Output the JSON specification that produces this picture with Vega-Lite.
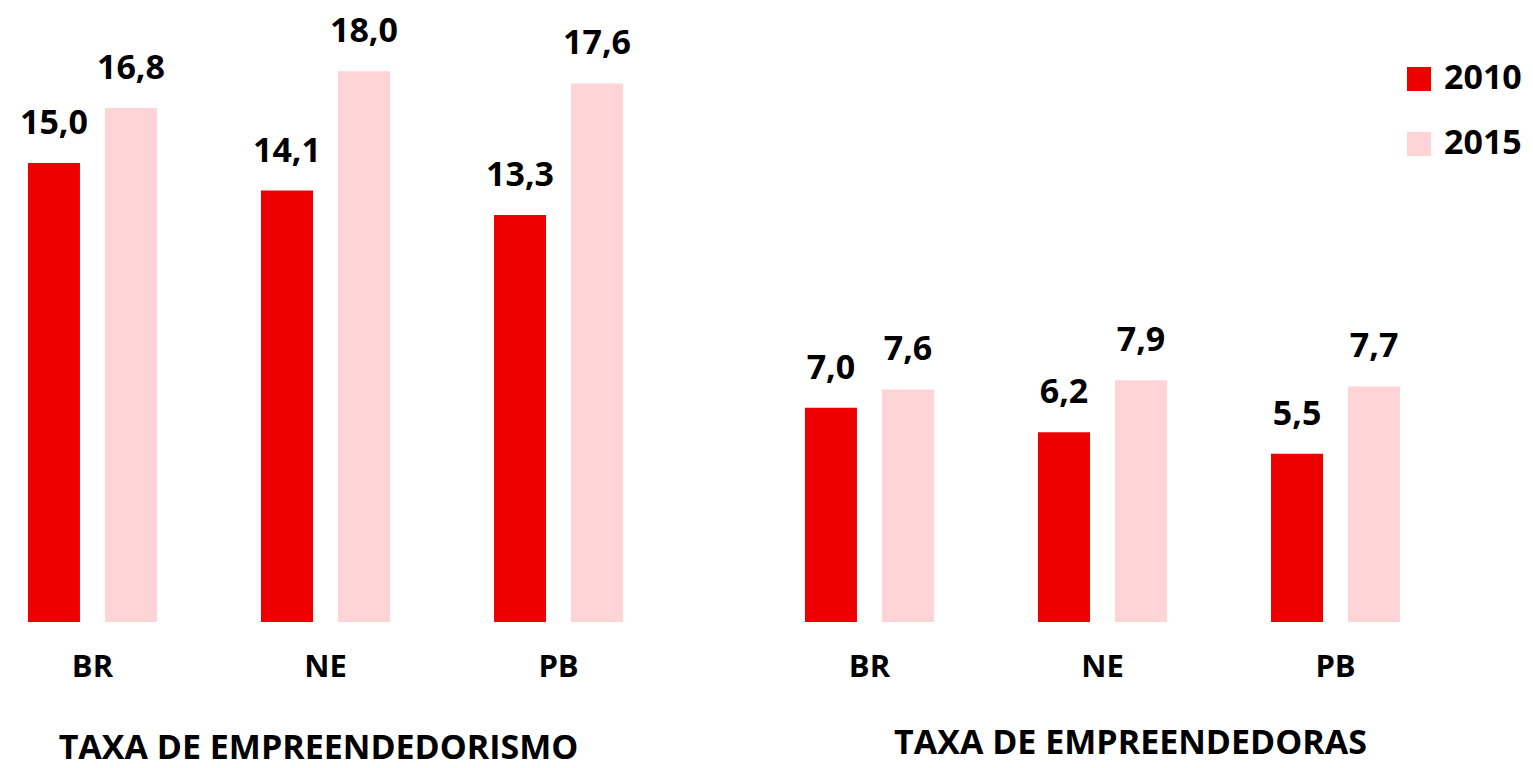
{
  "$schema": "https://vega.github.io/schema/vega-lite/v6.json",
  "padding": {"left": 0, "top": 10, "right": 0, "bottom": 0},
  "background": "white",
  "config": {
    "locale": {"number": {"decimal": ",", "thousands": ".", "grouping": [3], "currency": ["R$ ", ""]}},
    "view": {"stroke": null},
    "font": "Open Sans",
    "axisX": {
      "labelAngle": 0,
      "domain": false,
      "ticks": false,
      "tickSize": 0,
      "labelPadding": 30,
      "labelFontSize": 31,
      "labelFontWeight": "bold",
      "labelColor": "black",
      "labelFont": "Open Sans",
      "titleFont": "Open Sans",
      "titleFontSize": 34,
      "titleFontWeight": "bold",
      "titleColor": "black",
      "titleBaseline": "alphabetic"
    }
  },
  "data": {
    "values": [
      {"panel": "A", "region": "BR", "year": "2010", "value": 15.0},
      {"panel": "A", "region": "BR", "year": "2015", "value": 16.8},
      {"panel": "A", "region": "NE", "year": "2010", "value": 14.1},
      {"panel": "A", "region": "NE", "year": "2015", "value": 18.0},
      {"panel": "A", "region": "PB", "year": "2010", "value": 13.3},
      {"panel": "A", "region": "PB", "year": "2015", "value": 17.6},
      {"panel": "B", "region": "BR", "year": "2010", "value": 7.0},
      {"panel": "B", "region": "BR", "year": "2015", "value": 7.6},
      {"panel": "B", "region": "NE", "year": "2010", "value": 6.2},
      {"panel": "B", "region": "NE", "year": "2015", "value": 7.9},
      {"panel": "B", "region": "PB", "year": "2010", "value": 5.5},
      {"panel": "B", "region": "PB", "year": "2015", "value": 7.7}
    ]
  },
  "spacing": 126,
  "hconcat": [
    {
      "width": 651,
      "height": 612,
      "transform": [{"filter": "datum.panel === 'A'"}],
      "encoding": {
        "x": {
          "field": "region",
          "type": "nominal",
          "sort": ["BR", "NE", "PB"],
          "scale": {"paddingInner": 0.4464, "paddingOuter": 0.12},
          "axis": {"title": "TAXA DE EMPREENDEDORISMO", "titleX": 318, "titleY": 136}
        },
        "xOffset": {"field": "year", "type": "nominal", "scale": {"paddingInner": 0.325, "paddingOuter": 0}},
        "y": {"field": "value", "type": "quantitative", "scale": {"domain": [0, 20]}, "axis": null}
      },
      "layer": [
        {
          "mark": {"type": "bar"},
          "encoding": {
            "color": {
              "field": "year",
              "type": "nominal",
              "scale": {"domain": ["2010", "2015"], "range": ["#ee0000", "#ffd4d6"]},
              "legend": {
                "orient": "none",
                "legendX": 1402,
                "legendY": 52,
                "title": null,
                "padding": 0,
                "symbolType": "square",
                "symbolSize": 576,
                "symbolStrokeWidth": 0,
                "symbolOpacity": 1,
                "labelFont": "Open Sans",
                "labelFontSize": 34,
                "labelFontWeight": "bold",
                "labelColor": "black",
                "labelOffset": 8,
                "rowPadding": 31
              }
            }
          }
        },
        {
          "mark": {"type": "text", "baseline": "alphabetic", "dy": -29, "font": "Open Sans", "fontSize": 34, "fontWeight": "bold", "color": "black"},
          "encoding": {"text": {"field": "value", "type": "quantitative", "format": ".1f"}}
        }
      ]
    },
    {
      "width": 651,
      "height": 612,
      "transform": [{"filter": "datum.panel === 'B'"}],
      "encoding": {
        "x": {
          "field": "region",
          "type": "nominal",
          "sort": ["BR", "NE", "PB"],
          "scale": {"paddingInner": 0.4464, "paddingOuter": 0.12},
          "axis": {"title": "TAXA DE EMPREENDEDORAS", "titleX": 353, "titleY": 131}
        },
        "xOffset": {"field": "year", "type": "nominal", "scale": {"paddingInner": 0.325, "paddingOuter": 0}},
        "y": {"field": "value", "type": "quantitative", "scale": {"domain": [0, 20]}, "axis": null}
      },
      "layer": [
        {
          "mark": {"type": "bar"},
          "encoding": {
            "color": {
              "field": "year",
              "type": "nominal",
              "scale": {"domain": ["2010", "2015"], "range": ["#ee0000", "#ffd4d6"]}
            }
          }
        },
        {
          "mark": {"type": "text", "baseline": "alphabetic", "dy": -29, "font": "Open Sans", "fontSize": 34, "fontWeight": "bold", "color": "black"},
          "encoding": {"text": {"field": "value", "type": "quantitative", "format": ".1f"}}
        }
      ]
    }
  ]
}
